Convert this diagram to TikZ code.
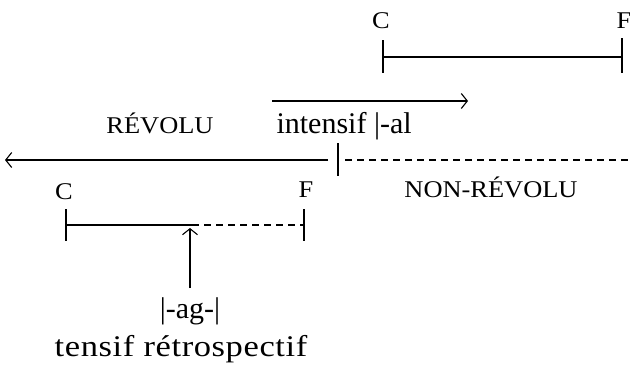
\documentclass[tikz,border=0pt]{standalone}
\usepackage{fontspec}
\setmainfont{Liberation Serif}
\newfontfamily\capsfont{Liberation Serif}[FakeStretch=1.1]
\newfontfamily\widefont{Liberation Serif}[FakeStretch=1.15, LetterSpace=2]
\usetikzlibrary{arrows.meta}

\tikzset{
  txt/.style={inner sep=0pt, anchor=base, font=\fontsize{30}{36}\selectfont},
  caps/.style={inner sep=0pt, anchor=base, font=\capsfont\fontsize{24}{28}\selectfont},
  >={Straight Barb[length=6pt,width=15pt]}
}

\begin{document}
\begin{tikzpicture}[x=1pt, y=-1pt, line width=1.1pt]
\useasboundingbox (0,0) rectangle (630,367);

% top interval C--F
\coordinate (C1) at (383,57);
\coordinate (F1) at (622,57);
\draw (C1) -- (F1);
\draw (C1) ++(0,-17) -- ++(0,33);
\draw (F1) ++(0,-19) -- ++(0,35);
\node[caps] (labC1) at (381,28) {C};
\node[caps] (labF1) at (624,28) {F};

% intensif arrow
\coordinate (i0) at (272,101);
\coordinate (i1) at (468,101);
\draw[->] (i0) -- (i1);
\node[txt, anchor=base west] (intens) at (276,133) {intensif |-al};

% main time line
\coordinate (now) at (338,160);
\coordinate (past) at (5,160);
\coordinate (fut) at (630,160);
\draw[->] ([xshift=-10pt]now) -- (past);
\draw[dash pattern=on 7pt off 5pt] ([xshift=7pt]now) -- (fut);
\draw (now) ++(0,-17) -- ++(0,33);
\node[caps] (revolu) at (160,133) {RÉVOLU};
\node[caps] (nonrev) at (491,197) {NON-RÉVOLU};

% bottom interval C--F
\coordinate (C2) at (66,225);
\coordinate (M2) at (192,225);
\coordinate (F2) at (304,225);
\draw (C2) -- (M2);
\draw[dash pattern=on 7pt off 5pt] (M2) -- (F2);
\draw (C2) ++(0,-16) -- ++(0,32);
\draw (F2) ++(0,-16) -- ++(0,32);
\node[caps] (labC2) at (64,199) {C};
\node[caps] (labF2) at (306,197) {F};

% tensif retrospectif
\coordinate (ag) at (190,288);
\draw[->] (ag) -- (190,228);
\node[txt] (agtxt) at (190,318) {|-ag-|};
\node[txt, font=\widefont\fontsize{30}{36}\selectfont] (tensif) at (181,356) {tensif rétrospectif};
\end{tikzpicture}
\end{document}
